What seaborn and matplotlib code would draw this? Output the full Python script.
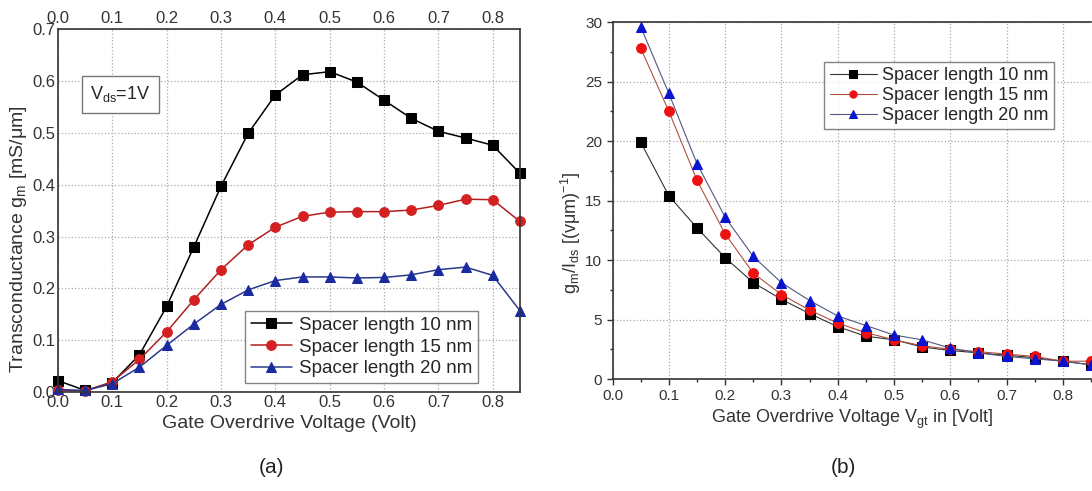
import numpy as np
import pandas as pd
import matplotlib
matplotlib.use('Agg')
import matplotlib.pyplot as plt
from matplotlib.ticker import MultipleLocator
import seaborn as sns

# ─── Data ────────────────────────────────────────────────────────────────────
vgt_a = [0.0, 0.05, 0.1, 0.15, 0.2, 0.25, 0.3, 0.35, 0.4, 0.45, 0.5, 0.55,
         0.6, 0.65, 0.7, 0.75, 0.8, 0.85]
gm_10 = [0.022, 0.003, 0.018, 0.072, 0.165, 0.280, 0.397, 0.499, 0.573, 0.612,
         0.618, 0.598, 0.563, 0.528, 0.503, 0.490, 0.476, 0.422]
gm_15 = [0.003, 0.002, 0.020, 0.063, 0.116, 0.178, 0.236, 0.284, 0.318, 0.339,
         0.347, 0.348, 0.348, 0.351, 0.360, 0.372, 0.371, 0.329]
gm_20 = [0.005, 0.003, 0.016, 0.048, 0.090, 0.131, 0.169, 0.197, 0.215, 0.222,
         0.222, 0.220, 0.221, 0.226, 0.236, 0.241, 0.225, 0.157]

vgt_b = [0.05, 0.1, 0.15, 0.2, 0.25, 0.3, 0.35, 0.4, 0.45, 0.5, 0.55, 0.6,
         0.65, 0.7, 0.75, 0.8, 0.85]
eff_10 = [19.9, 15.4, 12.7, 10.2, 8.1, 6.7, 5.5, 4.4, 3.6, 3.3, 2.7, 2.4,
          2.2, 2.0, 1.8, 1.5, 1.2]
eff_15 = [27.8, 22.5, 16.7, 12.2, 8.9, 7.1, 5.8, 4.7, 3.9, 3.3, 2.8, 2.5,
          2.3, 2.1, 1.9, 1.5, 1.5]
eff_20 = [29.6, 24.0, 18.1, 13.6, 10.3, 8.1, 6.6, 5.3, 4.5, 3.7, 3.3, 2.6,
          2.2, 1.9, 1.7, 1.5, 1.2]

labels = ['Spacer length 10 nm', 'Spacer length 15 nm', 'Spacer length 20 nm']

# ─── Style ───────────────────────────────────────────────────────────────────
sns.set_style('white')
plt.rcParams['font.family'] = ['Liberation Sans', 'DejaVu Sans']
plt.rcParams['mathtext.fontset'] = 'custom'
plt.rcParams['mathtext.rm'] = 'Liberation Sans'
plt.rcParams['mathtext.default'] = 'regular'
plt.rcParams['axes.edgecolor'] = '#333333'
plt.rcParams['axes.linewidth'] = 1.2

fig = plt.figure(figsize=(10.92, 4.91), dpi=100)
ax1 = fig.add_axes([0.0531, 0.2016, 0.423, 0.739])
ax2 = fig.add_axes([0.561, 0.228, 0.438, 0.727])

grid_kw = dict(color='#aaaaaa', linestyle=':', linewidth=0.9)

# ─── (a) Transconductance ────────────────────────────────────────────────────
df_a = pd.DataFrame({'x': vgt_a, 'g10': gm_10, 'g15': gm_15, 'g20': gm_20})
styles_a = [('g10', 's', 'black', 'black'),
            ('g15', 'o', '#b02020', '#d42020'),
            ('g20', '^', '#2a3a8a', '#1a2aa0')]
for (col, mk, lc, fc), lab in zip(styles_a, labels):
    sns.lineplot(data=df_a, x='x', y=col, ax=ax1, color=lc, marker=mk,
                 markersize=7, markerfacecolor=fc, markeredgecolor=fc,
                 linewidth=1.1, label=lab, clip_on=False)

ax1.set_xlim(0, 0.85)
ax1.set_ylim(0, 0.7)
ax1.xaxis.set_major_locator(MultipleLocator(0.1))
ax1.yaxis.set_major_locator(MultipleLocator(0.1))
ax1.xaxis.set_major_formatter(plt.FormatStrFormatter('%.1f'))
ax1.yaxis.set_major_formatter(plt.FormatStrFormatter('%.1f'))
ax1.tick_params(labelsize=12, length=0, pad=2, top=True, labeltop=True,
                colors='#333333')
ax1.grid(True, **grid_kw)
ax1.set_xlabel('Gate Overdrive Voltage (Volt)', fontsize=14, color='#333333')
ax1.set_ylabel('Transconductance g$_m$ [mS/μm]', fontsize=14,
               color='#333333')
ax1.yaxis.set_label_coords(-0.062, 0.42)
ax1.text(0.07, 0.82, 'V$_{ds}$=1V', transform=ax1.transAxes, fontsize=13,
         va='center', ha='left',
         bbox=dict(boxstyle='square,pad=0.45', fc='white', ec='#777777', lw=1))
ax1.legend(loc='lower right', bbox_to_anchor=(0.91, 0.025), fontsize=13.5,
           frameon=True, fancybox=False, edgecolor='#666666', borderpad=0.3,
           labelspacing=0.25, handlelength=2.2, handletextpad=0.4,
           borderaxespad=0)

# ─── (b) gm/Ids ──────────────────────────────────────────────────────────────
df_b = pd.DataFrame({'x': vgt_b, 'e10': eff_10, 'e15': eff_15, 'e20': eff_20})
styles_b = [('e10', 's', '#333333', 'black'),
            ('e15', 'o', '#b05040', '#ee1111'),
            ('e20', '^', '#505880', '#0a14d0')]
for (col, mk, lc, fc), lab in zip(styles_b, labels):
    sns.lineplot(data=df_b, x='x', y=col, ax=ax2, color=lc, marker=mk,
                 markersize=7, markerfacecolor=fc, markeredgecolor=fc,
                 linewidth=0.8, label=lab)

ax2.set_xlim(0, 0.85)
ax2.set_ylim(0, 30)
ax2.xaxis.set_major_locator(MultipleLocator(0.1))
ax2.xaxis.set_minor_locator(MultipleLocator(0.05))
ax2.yaxis.set_major_locator(MultipleLocator(5))
ax2.yaxis.set_minor_locator(MultipleLocator(2.5))
ax2.xaxis.set_major_formatter(plt.FormatStrFormatter('%.1f'))
ax2.tick_params(which='major', labelsize=11, length=4, width=1,
                direction='out', colors='#333333', left=True, bottom=True)
ax2.tick_params(which='minor', length=2.5, width=1, direction='out',
                colors='#333333', left=True, bottom=True)
ax2.spines['right'].set_visible(False)
ax2.grid(True, which='major', **grid_kw)
ax2.set_xlabel('Gate Overdrive Voltage V$_{gt}$ in [Volt]', fontsize=13,
               color='#333333', labelpad=3)
ax2.set_ylabel('g$_m$/I$_{ds}$ [(vμm)$^{-1}$]', fontsize=13,
               color='#333333')
ax2.yaxis.set_label_coords(-0.062, 0.41)
ax2.legend(loc='upper left', bbox_to_anchor=(0.443, 0.888), fontsize=13,
           frameon=True, fancybox=False, edgecolor='#666666', borderpad=0.3,
           labelspacing=0.15, handlelength=2.6, handletextpad=0.3,
           markerscale=0.75, borderaxespad=0)

# ─── Panel labels ────────────────────────────────────────────────────────────
fig.text(0.249, 0.048, '(a)', fontsize=15, ha='center', va='center',
         color='#222222')
fig.text(0.772, 0.048, '(b)', fontsize=15, ha='center', va='center',
         color='#222222')

plt.savefig('out.png', dpi=100)
plt.close()
